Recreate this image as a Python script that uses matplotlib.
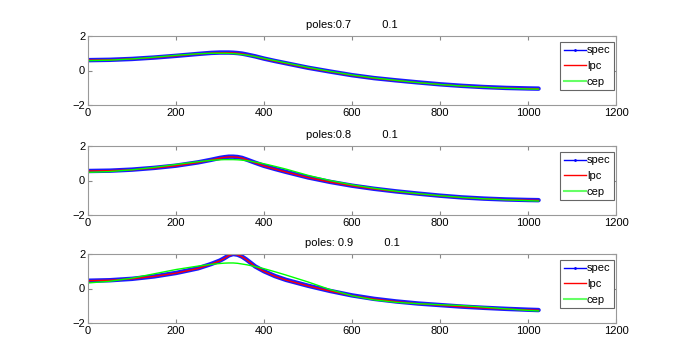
import matplotlib
matplotlib.use("Agg")
import matplotlib.pyplot as plt
from matplotlib.lines import Line2D

plt.rcParams["font.family"] = ["Liberation Sans", "DejaVu Sans"]
plt.rcParams["font.size"] = 8

# sample positions (frequency bin)
x = [0, 50, 100, 150, 200, 250, 280, 300, 310, 320, 330, 340, 350, 360, 380, 400,
     425, 450, 500, 550, 600, 650, 700, 750, 800, 850, 900, 950, 1000, 1024]

titles = ["poles:0.7          0.1", "poles:0.8          0.1", "poles: 0.9          0.1"]

spec_07 = [0.60, 0.62, 0.67, 0.75, 0.85, 0.96, 1.02, 1.04, 1.04, 1.04, 1.03, 1.01, 0.98, 0.93, 0.82, 0.69,
           0.55, 0.42, 0.16, -0.06, -0.27, -0.44, -0.57, -0.69, -0.80, -0.89, -0.96, -1.01, -1.04, -1.05]
lpc_07 = [0.60, 0.62, 0.67, 0.75, 0.85, 0.96, 1.01, 1.03, 1.03, 1.03, 1.02, 1.00, 0.97, 0.92, 0.81, 0.68,
          0.54, 0.41, 0.15, -0.07, -0.28, -0.45, -0.58, -0.70, -0.81, -0.90, -0.97, -1.02, -1.05, -1.06]
cep_07 = [0.57, 0.60, 0.67, 0.77, 0.88, 0.97, 1.00, 1.00, 1.00, 0.99, 0.98, 0.96, 0.93, 0.90, 0.81, 0.70,
          0.57, 0.44, 0.18, -0.05, -0.26, -0.43, -0.57, -0.70, -0.81, -0.90, -0.97, -1.03, -1.07, -1.08]

spec_08 = [0.55, 0.57, 0.63, 0.73, 0.86, 1.05, 1.20, 1.31, 1.35, 1.38, 1.38, 1.36, 1.31, 1.22, 1.03, 0.85,
           0.67, 0.50, 0.18, -0.08, -0.30, -0.48, -0.63, -0.76, -0.88, -0.98, -1.05, -1.10, -1.13, -1.14]
lpc_08 = [0.55, 0.57, 0.62, 0.72, 0.85, 1.04, 1.19, 1.30, 1.34, 1.37, 1.37, 1.35, 1.30, 1.21, 1.02, 0.84,
          0.66, 0.49, 0.17, -0.09, -0.31, -0.49, -0.64, -0.77, -0.89, -0.99, -1.06, -1.11, -1.14, -1.15]
cep_08 = [0.47, 0.52, 0.62, 0.76, 0.93, 1.09, 1.17, 1.20, 1.21, 1.21, 1.21, 1.20, 1.18, 1.15, 1.07, 0.97,
          0.82, 0.66, 0.30, 0.00, -0.25, -0.45, -0.62, -0.76, -0.88, -0.98, -1.06, -1.12, -1.17, -1.19]

spec_09 = [0.45, 0.48, 0.56, 0.70, 0.90, 1.17, 1.42, 1.62, 1.76, 1.92, 2.00, 1.96, 1.85, 1.68, 1.28, 1.00,
           0.72, 0.50, 0.16, -0.14, -0.40, -0.60, -0.75, -0.87, -0.96, -1.05, -1.12, -1.18, -1.23, -1.25]
lpc_09 = [0.45, 0.48, 0.56, 0.70, 0.89, 1.16, 1.41, 1.61, 1.75, 1.91, 1.99, 1.95, 1.84, 1.67, 1.27, 0.99,
          0.71, 0.49, 0.15, -0.15, -0.41, -0.61, -0.76, -0.88, -0.97, -1.06, -1.13, -1.19, -1.24, -1.26]
cep_09 = [0.32, 0.42, 0.60, 0.85, 1.10, 1.30, 1.40, 1.45, 1.47, 1.48, 1.48, 1.46, 1.42, 1.38, 1.27, 1.15,
          0.97, 0.78, 0.38, -0.06, -0.42, -0.66, -0.80, -0.88, -0.94, -0.99, -1.08, -1.18, -1.27, -1.30]

panels = [(spec_07, lpc_07, cep_07), (spec_08, lpc_08, cep_08), (spec_09, lpc_09, cep_09)]

W, H = 676, 364
fig = plt.figure(figsize=(W / 100, H / 100), dpi=100)
tops = [36, 146, 254]
ax_h = 69
for i, (spec, lpc, cep) in enumerate(panels):
    ax = fig.add_axes([88 / W, 1 - (tops[i] + ax_h) / H, 528 / W, ax_h / H])
    ax.plot(x, spec, color="#1a1aff", lw=3.2, solid_capstyle="round", label="spec")
    ax.plot(x, lpc, color="red", lw=1.0, label="lpc")
    ax.plot(x, cep, color="#00ff00", lw=1.0, label="cep")
    ax.set_xlim(0, 1200)
    ax.set_ylim(-2, 2)
    ax.set_xticks(range(0, 1201, 200))
    ax.set_yticks([-2, 0, 2])
    ax.tick_params(direction="in", top=True, right=True, length=3, color="#888888",
                   labelsize=8, pad=2)
    for s in ax.spines.values():
        s.set_color("#999999")
        s.set_linewidth(0.8)
    ax.set_title(titles[i], fontsize=8, pad=6)
    handles = [Line2D([0], [0], color="blue", lw=1, marker=".", markersize=2),
               Line2D([0], [0], color="red", lw=1),
               Line2D([0], [0], color="#66ff66", lw=1.5)]
    leg = ax.legend(handles, ["spec", "lpc", "cep"], loc="upper right",
                    bbox_to_anchor=(0.997, 0.92), fancybox=False, framealpha=1,
                    handlelength=2.0, handletextpad=0.1, borderpad=0.35,
                    labelspacing=0.5, borderaxespad=0.0, fontsize=8)
    leg.get_frame().set_edgecolor("#666666")
    leg.get_frame().set_linewidth(0.8)

fig.savefig("out.png", dpi=100)
